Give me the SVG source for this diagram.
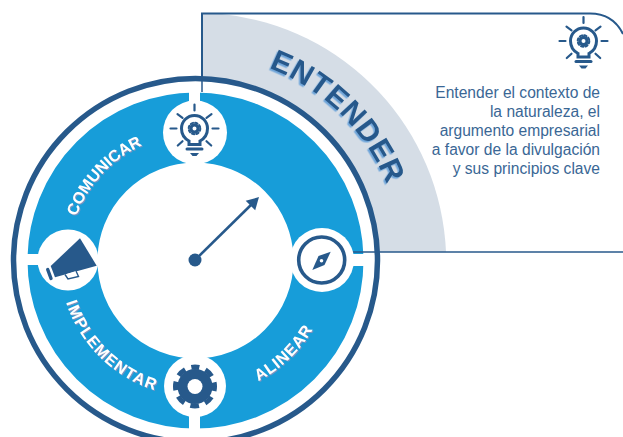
<svg xmlns="http://www.w3.org/2000/svg" xmlns:xlink="http://www.w3.org/1999/xlink" width="623" height="437" viewBox="0 0 623 437">
<style>
.d{fill:none;stroke:#27598b;stroke-linecap:round}
.f{fill:#27598b}
.w{fill:#fff}
.lab{font-family:"Liberation Sans",Arial,sans-serif;font-weight:700;font-size:16px;fill:#fff;filter:url(#sw)}
.body{font-family:"Liberation Sans",Arial,sans-serif;font-size:15.6px;fill:#3a6795;text-anchor:end}
</style>
<defs>
<filter id="sw" x="-10%" y="-30%" width="120%" height="160%"><feDropShadow dx="1" dy="1" stdDeviation="0.3" flood-color="#7f93c0"/></filter>
<filter id="sb" x="-10%" y="-20%" width="120%" height="140%"><feDropShadow dx="-1.5" dy="1.5" stdDeviation="0.2" flood-color="#6fa6da"/></filter>
<path id="a1" d="M195.5 54.5A206 206 0 0 1 401.5 260.5"/>
<path id="a2" d="M68.5 260.5A127 127 0 0 1 195.5 133.5"/>
<path id="a3" d="M59.5 260.5A136 136 0 0 0 195.5 396.5"/>
<path id="a4" d="M195.5 396.5A136 136 0 0 0 331.5 260.5"/>
<marker id="ah" markerUnits="userSpaceOnUse" viewBox="-8 -8 16 16" markerWidth="16" markerHeight="16" refX="0" refY="0" orient="auto"><path class="f" d="M-5 -6.8L7 0L-5 6.8Z"/></marker>
<g id="bulb">
<path class="d" stroke-width="3" d="M-5.5 16V12.5C-10 10 -13 5 -13 0A13 13 0 1 1 13 0C13 5 10 10 5.5 12.5V16Z"/>
<path class="d" stroke-width="2.2" d="M0 -24V-18M-24 0H-18M24 0H18M-17 -14.3L-12 -10.7M17 -14.3L12 -10.7M-16.7 17L-12 12.7M16.7 17L12 12.7"/>
<path class="d" stroke-width="3" stroke-linecap="butt" d="M-7.5 20.5H7.5"/>
<path class="f" d="M-4.5 24.5H4.5L2 27.5H-2Z"/>
<circle class="d" r="3.6" stroke-width="3.2"/>
<circle class="d" r="5.8" stroke-width="2" stroke-linecap="butt" stroke-dasharray="2.4 2.15"/>
</g>
</defs>
<g id="panel">
<path d="M202 14H222A250 250 0 0 1 446 252H340L202 100Z" fill="#d5dde6"/>
<path d="M202 92V13.5H590Q613 13.5 623 34" fill="none" stroke="#27598b" stroke-width="2"/>
</g>
<g id="wheel">
<circle cx="195.5" cy="260.5" r="183" fill="#fff"/>
<circle cx="195.5" cy="260.5" r="182" fill="none" stroke="#27598b" stroke-width="5.5"/>
<circle cx="195.5" cy="260.5" r="133" fill="none" stroke="#179dd9" stroke-width="70"/>
<path class="w" d="M189 85H200V110H189ZM340 254H366V266H340ZM25 254H50V265H25ZM189 410H200V432H189Z"/>
</g>
<g id="connectors">
<path d="M202 92V75" stroke="#27598b" stroke-width="1.5" fill="none"/>
<path d="M345 252H623" stroke="#27598b" stroke-width="1.5" fill="none"/>
<path d="M195 260L254 202" stroke="#27598b" stroke-width="2.6" fill="none" marker-end="url(#ah)"/>
<circle class="f" cx="195" cy="260" r="6.5"/>
</g>
<g id="node-entender">
<circle class="w" cx="195" cy="132.5" r="32"/>
<use href="#bulb" x="194.5" y="128.5"/>
<text font-family="'Liberation Sans',Arial,sans-serif" font-weight="700" font-size="30" fill="#27598b" text-anchor="middle" letter-spacing="0.8" filter="url(#sb)"><textPath href="#a1" startOffset="49.6%">ENTENDER</textPath></text>
</g>
<g id="node-alinear">
<circle class="w" cx="322" cy="260" r="32"/>
<circle class="d" cx="321.7" cy="260" r="23" stroke-width="3.6"/>
<path class="f" d="M330.7 251.7L324.5 265L312.3 270L318.5 256Z"/>
<circle class="w" cx="321.5" cy="260.7" r="1.8"/>
<text class="lab" letter-spacing="0.8"><textPath href="#a4" startOffset="48.5%" text-anchor="middle">ALINEAR</textPath></text>
</g>
<g id="node-implementar">
<circle class="w" cx="195" cy="386" r="31"/>
<circle class="f" cx="195" cy="386.5" r="17.5"/>
<circle cx="195" cy="386.5" r="19.5" fill="none" stroke="#27598b" stroke-width="5" stroke-dasharray="8.8 6.5" stroke-dashoffset="4.4" transform="rotate(-90 195 386.5)"/>
<circle class="w" cx="195" cy="386.5" r="7.5"/>
<text class="lab" letter-spacing="1.3"><textPath href="#a3" startOffset="50.5%" text-anchor="middle">IMPLEMENTAR</textPath></text>
</g>
<g id="node-comunicar">
<circle class="w" cx="68" cy="260" r="30.5"/>
<path class="f" d="M80 238.3L96.7 265.7L55 277.3L50.7 266Z"/>
<path class="d" stroke-width="3.4" stroke-linecap="butt" d="M47.7 269.5L51 278.5"/>
<path d="M65 274.5L68 279L78.5 276.5L76 271" fill="#fff" stroke="#27598b" stroke-width="1.4"/>
<text class="lab"><textPath href="#a2" startOffset="47.5%" text-anchor="middle">COMUNICAR</textPath></text>
</g>
<g id="description">
<use href="#bulb" x="583.5" y="41"/>
<text class="body"><tspan x="600" y="98">Entender el contexto de</tspan><tspan x="600" y="117">la naturaleza, el</tspan><tspan x="600" y="136">argumento empresarial</tspan><tspan x="600" y="155">a favor de la divulgación</tspan><tspan x="600" y="174">y sus principios clave</tspan></text>
</g>
</svg>
